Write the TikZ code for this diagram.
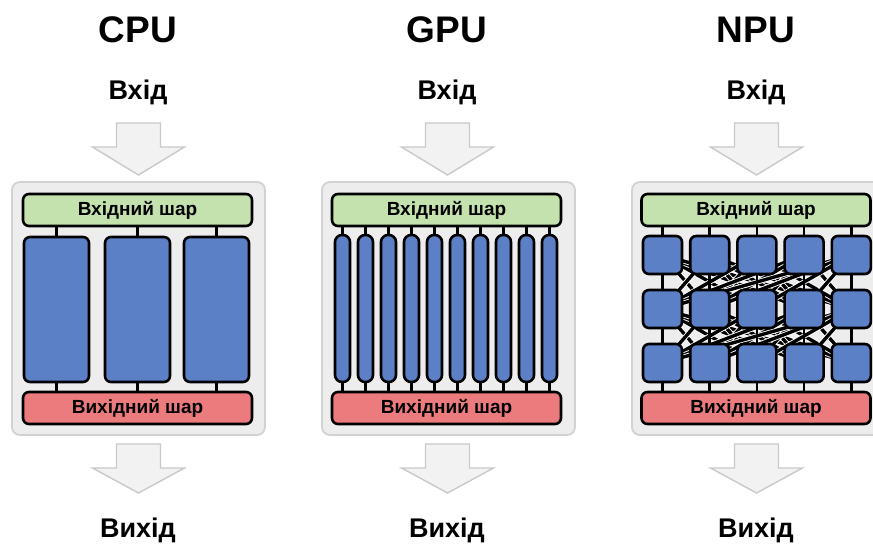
\documentclass[tikz,border=0pt]{standalone}
\usepackage{fontspec}
\setmainfont{Liberation Sans}
\definecolor{panelfill}{HTML}{EDEDED}
\definecolor{panelline}{HTML}{D2D2D2}
\definecolor{ingreen}{HTML}{C4E2AE}
\definecolor{outred}{HTML}{EC7B7D}
\definecolor{coreblue}{HTML}{5C80C6}
\definecolor{arrowfill}{HTML}{F2F2F2}
\definecolor{arrowline}{HTML}{C9C9C9}
\pgfdeclarelayer{bg}
\pgfdeclarelayer{mesh}
\pgfsetlayers{bg,mesh,main}
\begin{document}
\begin{tikzpicture}[x=1pt,y=-1pt,line join=round,
  panel/.style={draw=panelline,fill=panelfill,line width=1.8pt,rounded corners=8pt},
  layerbox/.style={draw=black,line width=2.6pt,rounded corners=6pt,minimum width=229pt,
    minimum height=32pt,inner sep=0pt,font=\bfseries\fontsize{19}{19}\selectfont},
  inlayer/.style={layerbox,fill=ingreen},
  outlayer/.style={layerbox,fill=outred},
  core/.style={draw=black,fill=coreblue,line width=2.6pt,inner sep=0pt},
  wire/.style={draw=black,line width=2.6pt},
  mesh/.style={draw=black,line width=3.4pt,preaction={draw=white,line width=5.2pt}},
  flow/.style={draw=arrowline,fill=arrowfill,line width=1.4pt,line join=miter},
  title/.style={font=\bfseries\fontsize{37}{37}\selectfont,anchor=base},
  label/.style={font=\bfseries\fontsize{27}{27}\selectfont,anchor=base}]
\useasboundingbox (0,0) rectangle (873,545);

\begin{pgfonlayer}{bg}
\fill[white] (0,0) rectangle (873,545);
% panels
\draw[panel] (12,182) rectangle (265,435);
\draw[panel] (322,182) rectangle (575,435);
\draw[panel] (632,182) rectangle (885,435);
\end{pgfonlayer}

% block arrows above and below each panel
\foreach \cx in {138.5,447.5,756.5}{
  \draw[flow] (\cx-22,123) -- (\cx+22,123) -- (\cx+22,147) -- (\cx+46,147)
    -- (\cx,175) -- (\cx-46,147) -- (\cx-22,147) -- cycle;
  \draw[flow] (\cx-22,444) -- (\cx+22,444) -- (\cx+22,468) -- (\cx+46,468)
    -- (\cx,493) -- (\cx-46,468) -- (\cx-22,468) -- cycle;
}

% headings
\node[title] (cpu-title) at (138,43) {CPU};
\node[title] (gpu-title) at (447,43) {GPU};
\node[title] (npu-title) at (756,43) {NPU};
\foreach \n/\cx in {cpu/138,gpu/447,npu/756}{
  \node[label] (\n-in) at (\cx,100) {Вхід};
  \node[label] (\n-out) at (\cx,537) {Вихід};
}

% input and output layers
\node[inlayer] (cpu-il) at (137.5,210) {Вхідний шар};
\node[outlayer] (cpu-ol) at (137.5,408) {Вихідний шар};
\node[inlayer] (gpu-il) at (446.5,210) {Вхідний шар};
\node[outlayer] (gpu-ol) at (446.5,408) {Вихідний шар};
\node[inlayer] (npu-il) at (756,210) {Вхідний шар};
\node[outlayer] (npu-ol) at (756,408) {Вихідний шар};

% CPU: three large cores
\foreach \i/\cx in {1/56.5,2/137.5,3/216.5}{
  \node[core,rounded corners=6pt,minimum width=65pt,minimum height=145pt]
    (cpu-c\i) at (\cx,309.5) {};
  \draw[wire] (cpu-il.south -| cpu-c\i.north) -- (cpu-c\i.north);
  \draw[wire] (cpu-c\i.south) -- (cpu-ol.north -| cpu-c\i.south);
}

% GPU: ten narrow cores
\foreach \i in {0,...,9}{
  \pgfmathsetmacro\cx{342.5+23*\i}
  \node[core,rounded corners=7pt,minimum width=15pt,minimum height=147pt]
    (gpu-c\i) at (\cx,308.5) {};
  \draw[wire] (gpu-il.south -| gpu-c\i.north) -- (gpu-c\i.north);
  \draw[wire] (gpu-c\i.south) -- (gpu-ol.north -| gpu-c\i.south);
}

% NPU: 3x5 grid of processing units
\foreach \r/\cy in {1/255,2/309,3/363}{
  \foreach \c in {1,...,5}{
    \pgfmathsetmacro\cx{662.5+47.2*(\c-1)}
    \node[core,rounded corners=6pt,minimum width=39pt,minimum height=38pt]
      (npu-\r-\c) at (\cx,\cy) {};
  }
}
\foreach \c in {1,...,5}{
  \draw[wire] (npu-il.south -| npu-1-\c.north) -- (npu-1-\c.north);
  \draw[wire] (npu-1-\c.south) -- (npu-2-\c.north);
  \draw[wire] (npu-2-\c.south) -- (npu-3-\c.north);
  \draw[wire] (npu-3-\c.south) -- (npu-ol.north -| npu-3-\c.south);
}
% interconnect between neighbouring rows
\begin{pgfonlayer}{mesh}
\foreach \r/\s in {1/2,2/3}{
  \foreach \a in {1,...,5}{
    \foreach \b in {1,...,5}{
      \ifnum\a=\b\else
        \draw[mesh] (npu-\r-\a.center) -- (npu-\s-\b.center);
      \fi
    }
  }
}
\end{pgfonlayer}
\end{tikzpicture}
\end{document}
